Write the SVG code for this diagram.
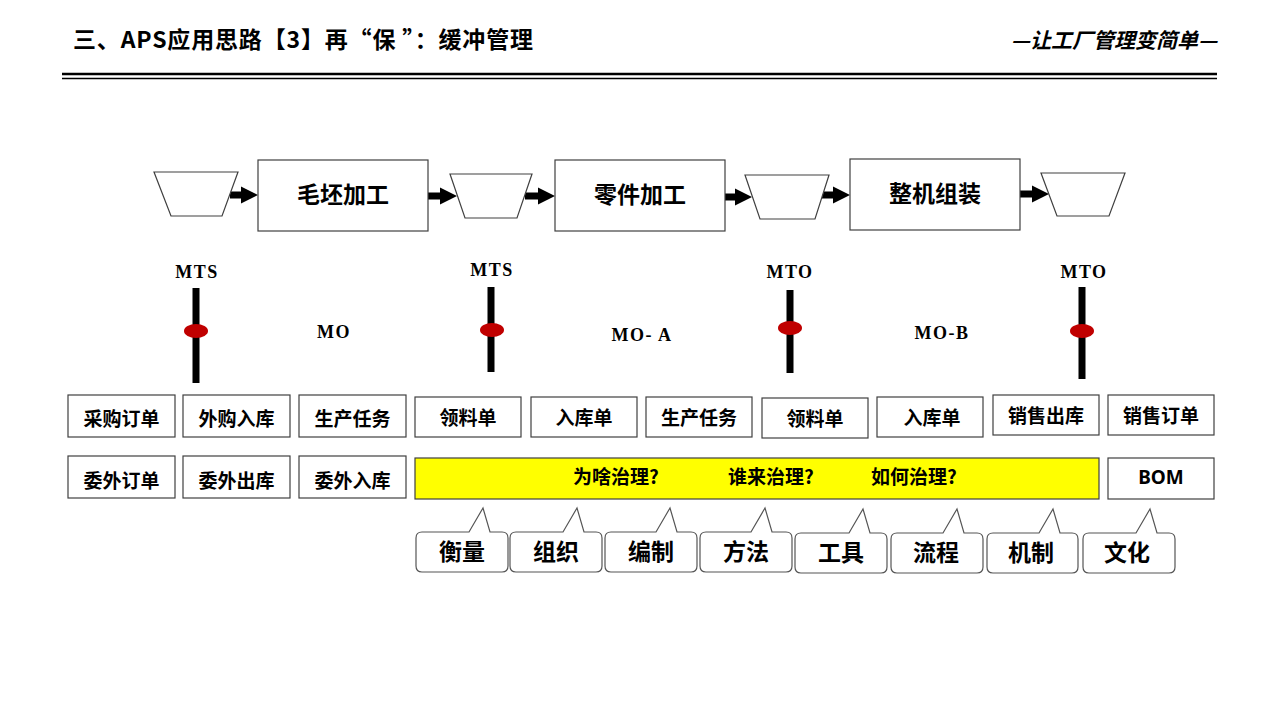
<svg xmlns="http://www.w3.org/2000/svg" width="1280" height="720" viewBox="0 0 1280 720">
<style>
.cjk{font-family:"Noto Sans CJK SC","Microsoft YaHei",sans-serif;font-weight:bold;fill:#000}
.box{fill:#fff;stroke:#404040;stroke-width:1.2}
.trap{fill:#fff;stroke:#404040;stroke-width:1.2}
.lbl{font-family:"Liberation Serif",serif;font-weight:bold;font-size:18px;letter-spacing:1.5px;fill:#000}
.bar{fill:#000}
.knob{fill:#c00000}
.call{fill:#fff;stroke:#555;stroke-width:1.2}
.arrow{fill:#000}
</style>
<rect width="1280" height="720" fill="#fff"/>
<g id="header">
<text x="73" y="48" class="cjk" font-size="23" textLength="460" lengthAdjust="spacing">三、APS应用思路【3】再“保 ”：缓冲管理</text>
<text x="1217" y="48" class="cjk" font-size="21" font-style="italic" text-anchor="end">—让工厂管理变简单—</text>
<line x1="62" y1="74" x2="1217" y2="74" stroke="#000" stroke-width="2.5"/>
<line x1="62" y1="78.5" x2="1217" y2="78.5" stroke="#000" stroke-width="1.3"/>
</g>
<g id="connectors">
<polygon class="arrow" points="230,191.5 241,191.5 241,186.5 258,195 241,203.5 241,198.5 230,198.5"/>
<polygon class="arrow" points="428,192.5 440,192.5 440,187.5 457,196 440,204.5 440,199.5 428,199.5"/>
<polygon class="arrow" points="525,192.5 538,192.5 538,187.5 555,196 538,204.5 538,199.5 525,199.5"/>
<polygon class="arrow" points="725,193.5 735,193.5 735,188.5 752,197 735,205.5 735,200.5 725,200.5"/>
<polygon class="arrow" points="822,191.5 833,191.5 833,186.5 850,195 833,203.5 833,198.5 822,198.5"/>
<polygon class="arrow" points="1020,190.5 1032,190.5 1032,185.5 1049,194 1032,202.5 1032,197.5 1020,197.5"/>
</g>
<g id="buffer1"><polygon class="trap" points="154,172 238,172 222,216 171,216"/></g>
<g id="proc1"><rect class="box" x="258" y="160" width="170" height="71"/><text x="343" y="203" class="cjk" font-size="23" text-anchor="middle">毛坯加工</text></g>
<g id="buffer2"><polygon class="trap" points="450,174 532,174 517,218 465,218"/></g>
<g id="proc2"><rect class="box" x="555" y="160" width="170" height="71"/><text x="640" y="203" class="cjk" font-size="23" text-anchor="middle">零件加工</text></g>
<g id="buffer3"><polygon class="trap" points="745,175 829,175 815,219 760,219"/></g>
<g id="proc3"><rect class="box" x="850" y="159" width="170" height="71"/><text x="935" y="202" class="cjk" font-size="23" text-anchor="middle">整机组装</text></g>
<g id="buffer4"><polygon class="trap" points="1041,173 1125,173 1109,216 1057,216"/></g>

<g id="slider1"><text x="197" y="278" class="lbl" text-anchor="middle">MTS</text><rect class="bar" x="192.5" y="288" width="7" height="95"/><ellipse class="knob" cx="196" cy="331" rx="12" ry="7"/></g>
<g id="slider2"><text x="492" y="276" class="lbl" text-anchor="middle">MTS</text><rect class="bar" x="487.5" y="287" width="7" height="85"/><ellipse class="knob" cx="492" cy="330" rx="12" ry="7"/></g>
<g id="slider3"><text x="790" y="278" class="lbl" text-anchor="middle">MTO</text><rect class="bar" x="786.5" y="290" width="7" height="83"/><ellipse class="knob" cx="790" cy="328" rx="12" ry="7"/></g>
<g id="slider4"><text x="1084" y="278" class="lbl" text-anchor="middle">MTO</text><rect class="bar" x="1078.5" y="287" width="7" height="92"/><ellipse class="knob" cx="1082" cy="331" rx="12" ry="7"/></g>
<g id="mo"><text x="334" y="338" class="lbl" text-anchor="middle">MO</text></g>
<g id="moa"><text x="642" y="341" class="lbl" text-anchor="middle" letter-spacing="0.5">MO- A</text></g>
<g id="mob"><text x="942" y="339" class="lbl" text-anchor="middle" letter-spacing="0.5">MO-B</text></g>

<g id="r1c1"><rect class="box" x="68" y="395" width="107" height="42"/><text x="121.5" y="426" class="cjk" font-size="19" text-anchor="middle">采购订单</text></g>
<g id="r1c2"><rect class="box" x="183" y="395" width="107" height="42"/><text x="236.5" y="426" class="cjk" font-size="19" text-anchor="middle">外购入库</text></g>
<g id="r1c3"><rect class="box" x="299" y="395" width="107" height="42"/><text x="352.5" y="426" class="cjk" font-size="19" text-anchor="middle">生产任务</text></g>
<g id="r1c4"><rect class="box" x="415" y="397" width="106" height="40"/><text x="468" y="425" class="cjk" font-size="19" text-anchor="middle">领料单</text></g>
<g id="r1c5"><rect class="box" x="531" y="397" width="106" height="40"/><text x="584" y="425" class="cjk" font-size="19" text-anchor="middle">入库单</text></g>
<g id="r1c6"><rect class="box" x="646" y="397" width="106" height="40"/><text x="699" y="425" class="cjk" font-size="19" text-anchor="middle">生产任务</text></g>
<g id="r1c7"><rect class="box" x="762" y="398" width="106" height="40"/><text x="815" y="426" class="cjk" font-size="19" text-anchor="middle">领料单</text></g>
<g id="r1c8"><rect class="box" x="877" y="397" width="106" height="40"/><text x="932" y="425" class="cjk" font-size="19" text-anchor="middle">入库单</text></g>
<g id="r1c9"><rect class="box" x="993" y="395" width="106" height="40"/><text x="1046" y="423" class="cjk" font-size="19" text-anchor="middle">销售出库</text></g>
<g id="r1c10"><rect class="box" x="1108" y="395" width="106" height="40"/><text x="1161" y="423" class="cjk" font-size="19" text-anchor="middle">销售订单</text></g>

<g id="r2c1"><rect class="box" x="68" y="456" width="107" height="42"/><text x="121.5" y="488" class="cjk" font-size="19" text-anchor="middle">委外订单</text></g>
<g id="r2c2"><rect class="box" x="183" y="456" width="107" height="42"/><text x="236.5" y="488" class="cjk" font-size="19" text-anchor="middle">委外出库</text></g>
<g id="r2c3"><rect class="box" x="299" y="456" width="107" height="42"/><text x="352.5" y="488" class="cjk" font-size="19" text-anchor="middle">委外入库</text></g>
<g id="governance"><rect x="415" y="458" width="684" height="41" fill="#ffff00" stroke="#404040" stroke-width="1.2"/>
<text x="616" y="484" class="cjk" font-size="19" text-anchor="middle">为啥治理?</text>
<text x="771" y="484" class="cjk" font-size="19" text-anchor="middle">谁来治理?</text>
<text x="914" y="484" class="cjk" font-size="19" text-anchor="middle">如何治理?</text></g>
<g id="bom"><rect class="box" x="1108" y="458" width="106" height="41"/><text x="1161" y="484" font-family="'Noto Sans','Liberation Sans',sans-serif" font-weight="bold" font-size="19" text-anchor="middle">BOM</text></g>

<g id="c1"><path class="call" d="M422,532 L469,532 L483,508 L490,532 L502,532 Q508,532 508,538 L508,566 Q508,572 502,572 L422,572 Q416,572 416,566 L416,538 Q416,532 422,532 Z"/><text x="462" y="560" class="cjk" font-size="23" text-anchor="middle">衡量</text></g>
<g id="c2"><path class="call" d="M516,532 L563,532 L577,508 L584,532 L596,532 Q602,532 602,538 L602,566 Q602,572 596,572 L516,572 Q510,572 510,566 L510,538 Q510,532 516,532 Z"/><text x="556" y="560" class="cjk" font-size="23" text-anchor="middle">组织</text></g>
<g id="c3"><path class="call" d="M611,532 L656,532 L670,508 L677,532 L691,532 Q697,532 697,538 L697,566 Q697,572 691,572 L611,572 Q605,572 605,566 L605,538 Q605,532 611,532 Z"/><text x="651" y="560" class="cjk" font-size="23" text-anchor="middle">编制</text></g>
<g id="c4"><path class="call" d="M706,532 L751,532 L765,508 L772,532 L786,532 Q792,532 792,538 L792,566 Q792,572 786,572 L706,572 Q700,572 700,566 L700,538 Q700,532 706,532 Z"/><text x="746" y="560" class="cjk" font-size="23" text-anchor="middle">方法</text></g>
<g id="c5"><path class="call" d="M801,533 L849,533 L863,509 L870,533 L881,533 Q887,533 887,539 L887,567 Q887,573 881,573 L801,573 Q795,573 795,567 L795,539 Q795,533 801,533 Z"/><text x="841" y="561" class="cjk" font-size="23" text-anchor="middle">工具</text></g>
<g id="c6"><path class="call" d="M897,533 L943,533 L957,509 L964,533 L977,533 Q983,533 983,539 L983,567 Q983,573 977,573 L897,573 Q891,573 891,567 L891,539 Q891,533 897,533 Z"/><text x="936" y="561" class="cjk" font-size="23" text-anchor="middle">流程</text></g>
<g id="c7"><path class="call" d="M993,533 L1039,533 L1053,509 L1060,533 L1072,533 Q1078,533 1078,539 L1078,567 Q1078,573 1072,573 L993,573 Q987,573 987,567 L987,539 Q987,533 993,533 Z"/><text x="1031" y="561" class="cjk" font-size="23" text-anchor="middle">机制</text></g>
<g id="c8"><path class="call" d="M1089,533 L1136,533 L1150,509 L1157,533 L1169,533 Q1175,533 1175,539 L1175,567 Q1175,573 1169,573 L1089,573 Q1083,573 1083,567 L1083,539 Q1083,533 1089,533 Z"/><text x="1127" y="561" class="cjk" font-size="23" text-anchor="middle">文化</text></g>
</svg>
